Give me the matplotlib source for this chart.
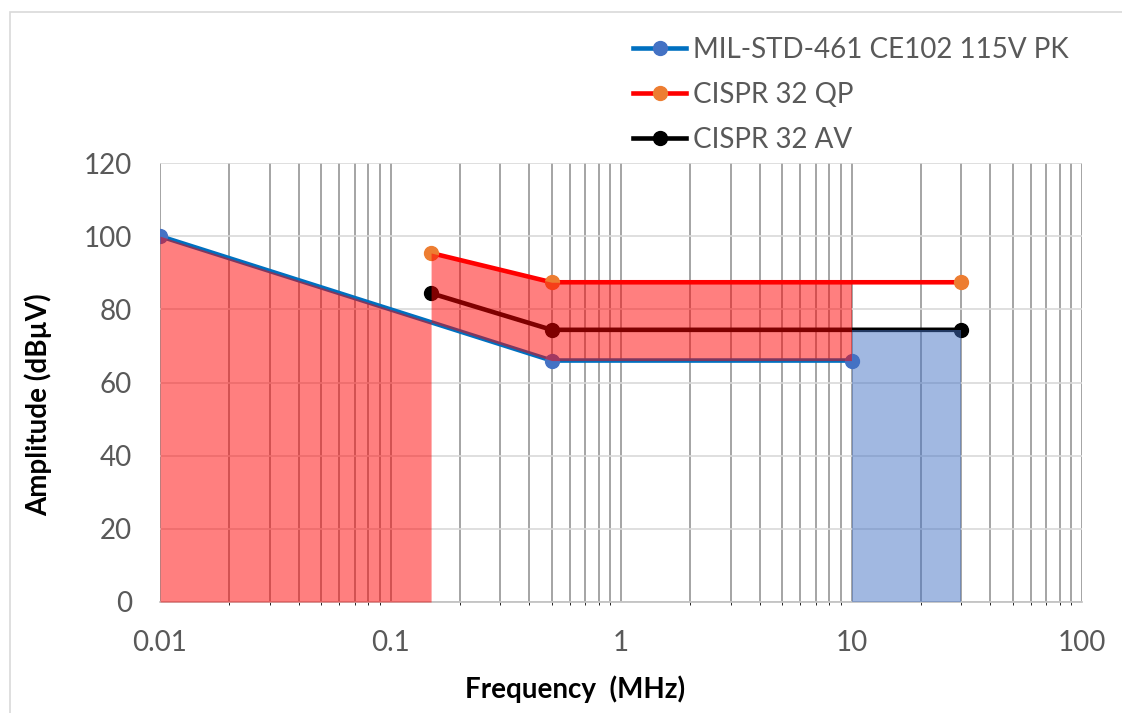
import numpy as np

import matplotlib
matplotlib.use("Agg")
import matplotlib.pyplot as plt
from matplotlib.patches import Rectangle


MIL_FREQ = [0.01, 0.5, 10]
MIL_LEVEL = [100, 66, 66]

QP_FREQ = [0.15, 0.5, 30]
QP_LEVEL = [95.4, 87.4, 87.4]

AV_FREQ = [0.15, 0.5, 30]
AV_LEVEL = [84.4, 74.4, 74.4]

X_TICKS = [0.01, 0.1, 1, 10, 100]
X_TICK_LABELS = ["0.01", "0.1", "1", "10", "100"]
Y_TICKS = [0, 20, 40, 60, 80, 100, 120]

FONT = "Lato"
GREY_TEXT = "#595959"


def level_at(freq, freqs, levels):
    # straight segments on the log frequency axis
    return np.interp(np.log10(freq), np.log10(freqs), levels)


def main():
    plt.rcParams["font.family"] = [FONT, "DejaVu Sans"]

    fig = plt.figure(figsize=(11.22, 7.13), dpi=100)
    ax = fig.add_axes([160 / 1122, 1 - 602 / 713, 922 / 1122, 439 / 713])

    ax.plot(MIL_FREQ, MIL_LEVEL, color="#0070C0", linewidth=3.3,
            marker="o", markersize=10, markerfacecolor="#4472C4",
            markeredgecolor="#4472C4", label="MIL-STD-461 CE102 115V PK",
            zorder=3)
    ax.plot(QP_FREQ, QP_LEVEL, color="#FF0000", linewidth=3.3,
            marker="o", markersize=10, markerfacecolor="#ED7D31",
            markeredgecolor="#ED7D31", label="CISPR 32 QP", zorder=3)
    ax.plot(AV_FREQ, AV_LEVEL, color="#000000", linewidth=3.3,
            marker="o", markersize=10, markerfacecolor="#000000",
            markeredgecolor="#000000", label="CISPR 32 AV", zorder=3)

    # red: under MIL limit below the CISPR start, then between MIL and QP
    x1 = np.array([MIL_FREQ[0], QP_FREQ[0]])
    ax.fill_between(x1, 0, level_at(x1, MIL_FREQ, MIL_LEVEL),
                    color="#FF0000", alpha=0.5, linewidth=0, zorder=4)
    x2 = np.array([QP_FREQ[0], QP_FREQ[1], MIL_FREQ[-1]])
    ax.fill_between(x2, level_at(x2, MIL_FREQ, MIL_LEVEL),
                    level_at(x2, QP_FREQ, QP_LEVEL),
                    color="#FF0000", alpha=0.5, linewidth=0, zorder=4)
    # blue: above MIL range up to the AV limit
    x3 = np.array([MIL_FREQ[-1], AV_FREQ[-1]])
    ax.fill_between(x3, 0, level_at(x3, AV_FREQ, AV_LEVEL),
                    color="#4472C4", alpha=0.5, linewidth=0, zorder=4)

    ax.set_xscale("log")
    ax.set_xlim(0.01, 100)
    ax.set_ylim(0, 120)
    ax.set_xticks(X_TICKS)
    ax.set_xticklabels(X_TICK_LABELS)
    ax.set_yticks(Y_TICKS)
    ax.tick_params(axis="both", length=0, labelsize=20, labelcolor=GREY_TEXT)
    ax.tick_params(axis="x", pad=20)
    ax.tick_params(axis="y", pad=20)

    ax.grid(True, axis="y", color="#D9D9D9", linewidth=1.2, zorder=1)
    ax.grid(True, axis="x", which="both", color="#8C8C8C", linewidth=1.1,
            zorder=1)
    ax.set_axisbelow(True)
    for side in ["top", "left", "right"]:
        ax.spines[side].set_visible(False)
    ax.spines["bottom"].set_color("#BFBFBF")
    ax.spines["bottom"].set_linewidth(1.2)

    fig.text(38 / 1122, 1 - 405 / 713, "Amplitude (dBµV)", rotation=90,
             ha="center", va="center", fontsize=20, fontweight="bold")
    fig.text(575 / 1122, 1 - 689 / 713, "Frequency  (MHz)",
             ha="center", va="center", fontsize=20, fontweight="bold")

    leg = ax.legend(loc="upper left", bbox_to_anchor=(622 / 1122, 1 - 26 / 713),
                    bbox_transform=fig.transFigure, frameon=False,
                    fontsize=20, handlelength=1.9, handletextpad=0.25,
                    labelspacing=0.68, numpoints=1, borderaxespad=0)
    for text in leg.get_texts():
        text.set_color(GREY_TEXT)

    fig.patches.append(Rectangle((10 / 1122, -0.02), 1.05, 1 - 12 / 713 + 0.02,
                                 transform=fig.transFigure, fill=False,
                                 edgecolor="#D9D9D9", linewidth=1.2))

    fig.savefig("out.png", dpi=100)
    plt.close(fig)


if __name__ == "__main__":
    main()
